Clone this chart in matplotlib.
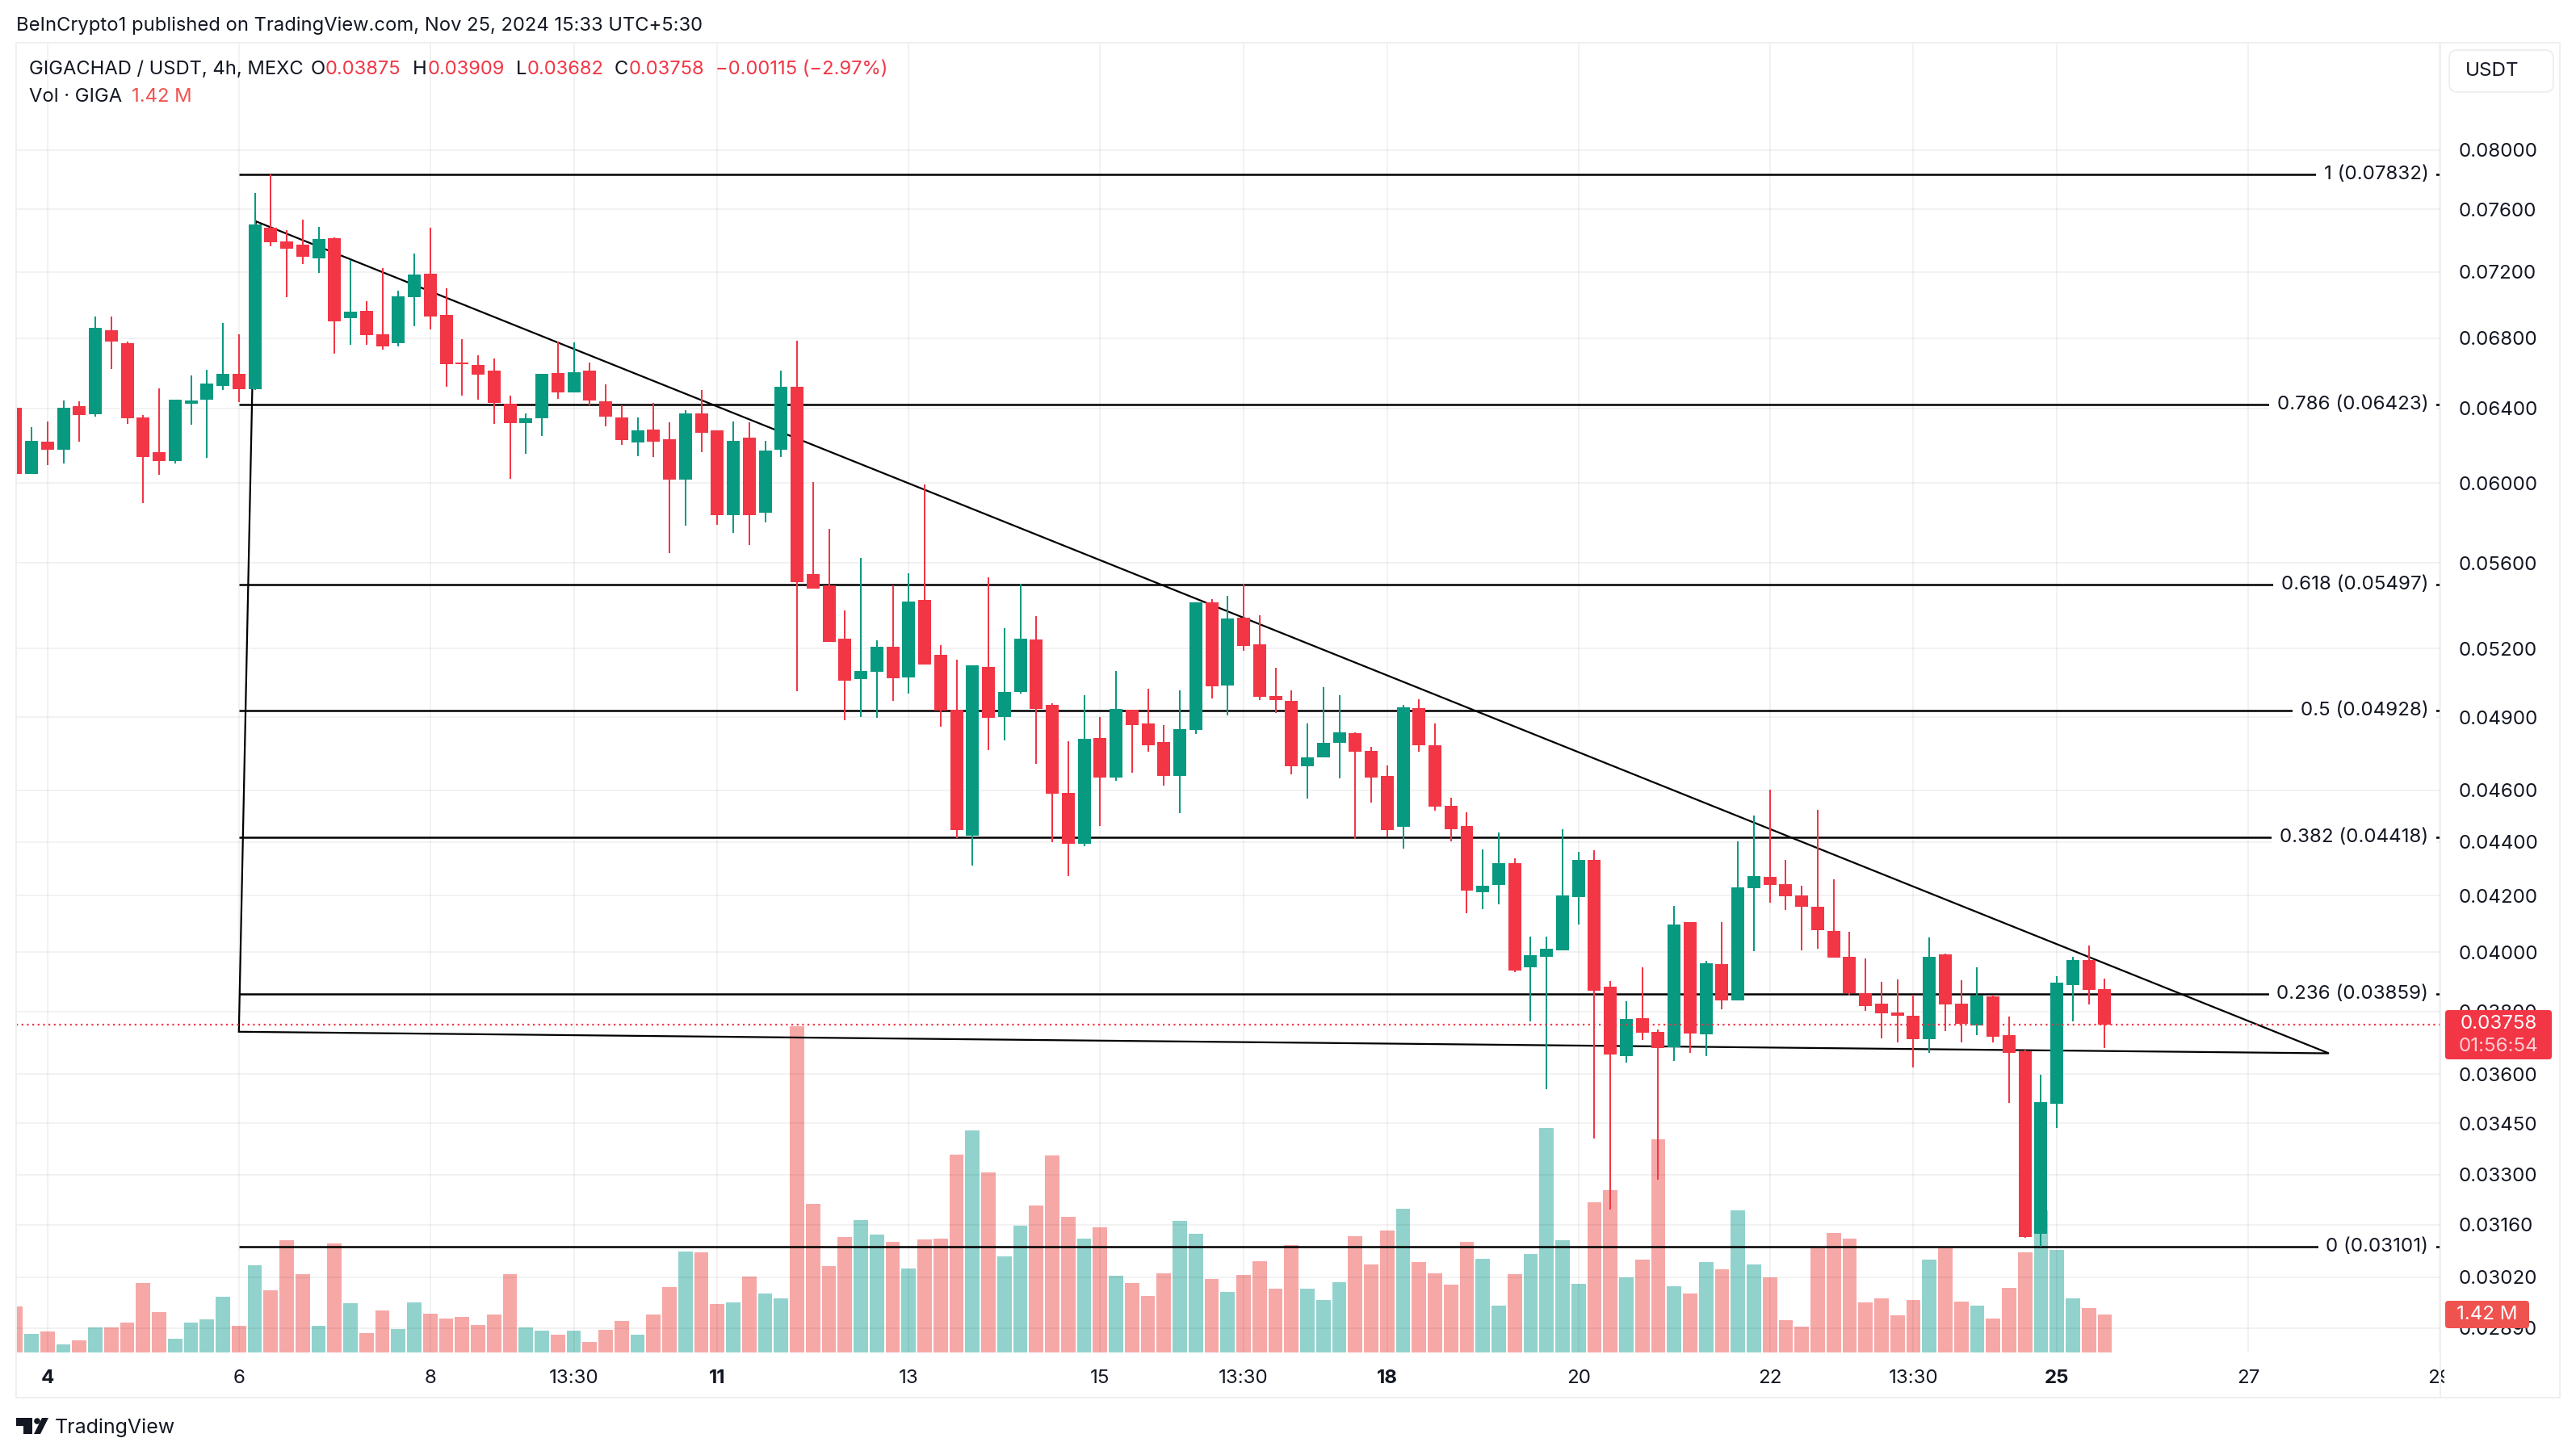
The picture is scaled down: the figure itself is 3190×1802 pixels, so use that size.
import matplotlib
matplotlib.use("Agg")
import matplotlib.pyplot as plt
import numpy as np
from matplotlib.patches import Circle, FancyBboxPatch, Polygon, Rectangle
from matplotlib.ticker import NullLocator
from matplotlib.transforms import Affine2D, Bbox, TransformedBbox

plt.rcParams["font.family"] = ["Inter", "DejaVu Sans"]

# 4h candles, prices in 1e-5 USDT
opens = [
    6403, 6047, 6218, 6175, 6412, 6368, 6847, 6771, 6350, 6162, 6116, 6425,
    6448, 6525, 6594, 6507, 7483, 7393, 7373, 7286, 7414, 6919, 6963, 6824,
    6771, 7046, 7190, 6939, 6658, 6644, 6612, 6425, 6319, 6346, 6598, 6489,
    6612, 6439, 6350, 6214, 6284, 6231, 6018, 6372, 6280, 5835, 6240, 5848,
    6175, 6521, 5546, 5492, 5244, 5064, 5096, 5207, 5071, 5423, 5172, 4932,
    4423, 5118, 4901, 5008, 5240, 4953, 4591, 4392, 4813, 4651, 4932, 4874,
    4796, 4658, 4847, 5411, 5036, 5341, 5218, 4991, 4970, 4696, 4733, 4793,
    4833, 4760, 4658, 4457, 4939, 4783, 4539, 4460, 4214, 4238, 4319, 3947,
    3983, 4005, 4194, 4331, 3882, 3657, 3777, 3733, 3685, 4104, 3725, 3958,
    3836, 4226, 4268, 4241, 4200, 4159, 4075, 3983, 3860, 3825, 3796, 3785,
    3709, 3991, 3825, 3754, 3849, 3722, 3672, 3135, 3508, 3887, 3972, 3875,
]
highs = [
    6403, 6297, 6328, 6443, 6439, 6929, 6929, 6781, 6363, 6512, 6448, 6585,
    6617, 6890, 6824, 7711, 7832, 7467, 7535, 7488, 7420, 7276, 7022, 7225,
    7085, 7317, 7483, 7100, 6795, 6700, 6681, 6471, 6372, 6594, 6781, 6776,
    6658, 6534, 6416, 6350, 6430, 6324, 6390, 6503, 6280, 6328, 6324, 6223,
    6612, 6786, 6005, 5766, 5374, 5624, 5237, 5492, 5550, 5992, 5215, 5150,
    5125, 5530, 5292, 5500, 5348, 4960, 4800, 4994, 4901, 5100, 4932, 5021,
    4867, 5015, 5411, 5427, 5442, 5500, 5352, 5114, 5015, 4874, 5029, 4994,
    4837, 4777, 4700, 4953, 4977, 4874, 4571, 4513, 4370, 4435, 4337, 4053,
    4053, 4448, 4361, 4367, 3901, 3833, 3949, 3740, 4162, 4104, 3969, 4104,
    4401, 4501, 4603, 4331, 4235, 4523, 4259, 4070, 3977, 3898, 3906, 3855,
    4050, 3994, 3903, 3949, 3855, 3782, 3680, 3599, 3919, 3983, 4022, 3909,
]
lows = [
    6047, 6047, 6094, 6103, 6218, 6355, 6621, 6315, 5897, 6043, 6103, 6311,
    6133, 6503, 6434, 6503, 7363, 7046, 7251, 7195, 6710, 6762, 6762, 6734,
    6753, 6871, 6852, 6521, 6471, 6448, 6315, 6022, 6154, 6249, 6452, 6489,
    6416, 6302, 6201, 6141, 6137, 5647, 5782, 6162, 5786, 5746, 5687, 5798,
    6137, 5011, 5477, 5230, 4888, 4901, 4898, 4970, 5001, 5129, 4860, 4413,
    4310, 4763, 4803, 5001, 4707, 4398, 4271, 4385, 4460, 4638, 4670, 4757,
    4619, 4510, 4830, 4980, 4908, 5190, 4974, 4918, 4664, 4567, 4733, 4648,
    4410, 4552, 4420, 4373, 4757, 4520, 4401, 4136, 4151, 4168, 3930, 3767,
    3552, 4005, 4098, 3404, 3201, 3635, 3707, 3285, 3640, 3667, 3657, 3806,
    3836, 4003, 4174, 4148, 4005, 4011, 3980, 3852, 3801, 3712, 3699, 3620,
    3667, 3735, 3701, 3722, 3701, 3510, 3124, 3101, 3437, 3767, 3822, 3682,
]
closes = [
    6047, 6223, 6175, 6403, 6363, 6862, 6781, 6346, 6137, 6116, 6448, 6443,
    6539, 6594, 6507, 7504, 7388, 7347, 7297, 7409, 6900, 6958, 6819, 6753,
    7051, 7185, 6929, 6648, 6648, 6589, 6430, 6319, 6346, 6594, 6489, 6603,
    6443, 6355, 6227, 6280, 6218, 6018, 6372, 6266, 5835, 6223, 5835, 6171,
    6521, 5507, 5477, 5230, 5057, 5100, 5207, 5068, 5415, 5129, 4929, 4445,
    5125, 4898, 5008, 5244, 4936, 4587, 4392, 4810, 4651, 4936, 4867, 4783,
    4658, 4850, 5411, 5032, 5337, 5211, 4987, 4974, 4696, 4733, 4793, 4837,
    4757, 4651, 4445, 4943, 4783, 4535, 4448, 4217, 4235, 4319, 3938, 3989,
    4011, 4200, 4331, 3868, 3662, 3775, 3731, 3683, 4098, 3727, 3961, 3836,
    4229, 4271, 4238, 4197, 4159, 4078, 3980, 3860, 3817, 3793, 3785, 3709,
    3983, 3822, 3759, 3852, 3717, 3667, 3128, 3513, 3895, 3972, 3871, 3758,
]
# volume in millions
volumes = [
    1.72, 0.69, 0.79, 0.30, 0.45, 0.94, 0.94, 1.12, 2.59, 1.51, 0.51, 1.12,
    1.23, 2.08, 0.99, 3.26, 2.32, 4.20, 2.92, 0.99, 4.07, 1.84, 0.72, 1.56,
    0.87, 1.87, 1.45, 1.27, 1.33, 1.02, 1.41, 2.92, 0.94, 0.81, 0.66, 0.81,
    0.39, 0.84, 1.18, 0.66, 1.41, 2.45, 3.78, 3.74, 1.81, 1.87, 2.84, 2.20,
    2.02, 12.20, 5.55, 3.23, 4.32, 4.96, 4.40, 4.14, 3.14, 4.22, 4.25, 7.40,
    8.31, 6.73, 3.59, 4.74, 5.50, 7.37, 5.07, 4.25, 4.68, 2.87, 2.59, 2.12,
    2.96, 4.92, 4.43, 2.74, 2.27, 2.89, 3.41, 2.38, 4.02, 2.38, 1.96, 2.63,
    4.35, 3.29, 4.56, 5.37, 3.38, 2.96, 2.53, 4.14, 3.50, 1.75, 2.92, 3.68,
    8.39, 4.20, 2.56, 5.61, 6.07, 2.80, 3.48, 7.98, 2.47, 2.22, 3.37, 3.11,
    5.32, 3.28, 2.80, 1.20, 0.96, 3.89, 4.47, 4.26, 1.88, 2.02, 1.39, 1.96,
    3.48, 3.89, 1.89, 1.75, 1.27, 2.42, 3.74, 5.33, 3.84, 2.02, 1.65, 1.42,
]

price_ticks = [0.08, 0.076, 0.072, 0.068, 0.064, 0.06, 0.056, 0.052, 0.049, 0.046,
               0.044, 0.042, 0.04, 0.038, 0.036, 0.0345, 0.033, 0.0316, 0.0302, 0.0289]
time_ticks = [2, 14, 26, 35, 44, 56, 68, 77, 86, 98, 110, 119, 128, 140, 152]
time_labels = ["4", "6", "8", "13:30", "11", "13", "15", "13:30", "18", "20", "22",
               "13:30", "25", "27", "29"]
bold_labels = ["4", "11", "18", "25"]

fib_ratios = ["1", "0.786", "0.618", "0.5", "0.382", "0.236", "0"]
fib_prices = [0.07832, 0.06423, 0.05497, 0.04928, 0.04418, 0.03859, 0.03101]
fib_start = 14

# triangle drawing: candle index and price of its three corners
tri_x = [15.06, 145.05, 14.0, 15.06]
tri_y = [0.07523, 0.03665, 0.03734, 0.07523]

last_price = 0.03758

GREEN = "#089981"
RED = "#F23645"
VOL_GREEN = "#26A69A"
VOL_RED = "#EF5350"
INK = "#131722"
LINE = "#EFEFEF"
AXIS_SIZE = 8.7
TOP_SIZE = 8.55

W, H = 3190, 1802
fig = plt.figure(figsize=(W / 200, H / 200), dpi=200, facecolor="white")
# everything outside the plot is placed in reference pixels, origin top left
px = Affine2D().scale(1 / W, -1 / H).translate(0, 1) + fig.transFigure

LEFT, RIGHT, TOP, BOTTOM = 20, 3022, 53, 1675
ax = fig.add_axes([LEFT / W, 1 - BOTTOM / H, (RIGHT - LEFT) / W, (BOTTOM - TOP) / H])
ax_vol = ax.twinx()
ax.set_zorder(1)
ax_vol.set_zorder(0)
ax.patch.set_visible(False)

o = np.array(opens) / 1e5
h = np.array(highs) / 1e5
l = np.array(lows) / 1e5
c = np.array(closes) / 1e5
x = np.arange(len(o))
up = c >= o

ax_vol.bar(x, volumes, width=0.9, alpha=0.5, linewidth=0,
           color=[VOL_GREEN if u else VOL_RED for u in up])
ax_vol.set_ylim(0, 49)
ax_vol.set_axis_off()

ax.set_yscale("log")
for price, ratio in zip(fib_prices, fib_ratios):
    ax.hlines(price, fib_start, 152.1, color="black", lw=0.9, zorder=2)
    ax.text(151.3, price, f"{ratio} ({price:.5f})", ha="right", va="center", fontsize=AXIS_SIZE,
            color=INK, zorder=2.5, bbox=dict(fc="white", ec="none", pad=3.5))
ax.plot(tri_x, tri_y, color="black", lw=0.8, zorder=2, solid_joinstyle="miter")

ax.vlines(x, l, h, colors=[GREEN if u else RED for u in up], lw=0.72, zorder=3)
ax.bar(x, np.abs(c - o), bottom=np.minimum(o, c), width=0.81, linewidth=0,
       color=[GREEN if u else RED for u in up], zorder=3)
ax.axhline(last_price, color=RED, lw=0.8, ls=(0, (1, 2)), zorder=4)

ax.set_xlim(0.035, 152.04)
ax.set_ylim(0.02830, 0.08778)
ax.set_axisbelow(True)
ax.grid(True, color="black", alpha=0.05, lw=0.72)

ax.yaxis.tick_right()
ax.set_yticks(price_ticks)
ax.set_yticklabels([f"{p:.5f}" for p in price_ticks])
ax.yaxis.set_minor_locator(NullLocator())
ax.tick_params(axis="y", which="both", length=0, pad=8.0, labelsize=AXIS_SIZE, labelcolor=INK)
ax.set_xticks(time_ticks)
ax.set_xticklabels(time_labels)
ax.tick_params(axis="x", length=0, pad=7.5, labelsize=AXIS_SIZE, labelcolor=INK)
clip = TransformedBbox(Bbox([[0, 0], [3027 / W, 1]]), fig.transFigure)
for lab in ax.get_xticklabels():
    if lab.get_text() in bold_labels:
        lab.set_fontweight("bold")
    lab.set_clip_on(True)
    lab.set_clip_box(clip)
for sp in ax.spines.values():
    sp.set_visible(False)


def label(xp, yp, s, color=INK, size=AXIS_SIZE, **kw):
    kw.setdefault("va", "center")
    fig.text(xp, yp, s, transform=px, color=color, fontsize=size, zorder=12, **kw)


def deco(patch):
    patch.set_transform(px)
    patch.set_zorder(10)
    fig.add_artist(patch)


# chart frame and price scale separator
deco(Rectangle((20, 53), 3150, 1678, fc="none", ec=LINE, lw=0.72))
deco(Rectangle((3022, 53), 0.01, 1678, fc="none", ec=LINE, lw=0.72))

label(20, 32, "BeInCrypto1 published on TradingView.com, Nov 25, 2024 15:33 UTC+5:30", size=8.55)

# legend rows
label(36, 86, "GIGACHAD / USDT, 4h, MEXC", size=TOP_SIZE)
for xl, letter, xv, val in [(385, "O", 403, "0.03875"), (511, "H", 530, "0.03909"),
                            (639, "L", 653, "0.03682"), (761, "C", 779, "0.03758")]:
    label(xl, 86, letter, size=TOP_SIZE)
    label(xv, 86, val, color=RED, size=TOP_SIZE)
label(886, 86, "\u22120.00115 (\u22122.97%)", color=RED, size=TOP_SIZE)
label(36, 120, "Vol \u00b7 GIGA", size=TOP_SIZE)
label(163, 120, "1.42 M", color=VOL_RED, size=TOP_SIZE)

# currency button
deco(FancyBboxPatch((3033, 62), 129, 52, boxstyle="round,pad=0,rounding_size=10",
                    fc="white", ec=LINE, lw=0.72))
label(3053, 88, "USDT")

# last price and volume tags
deco(FancyBboxPatch((3028, 1251), 132, 61, boxstyle="round,pad=0,rounding_size=4",
                    fc=RED, ec="none"))
label(3094, 1268, "0.03758", color="white", ha="center")
label(3094, 1296, "01:56:54", color="#FFD0D4", ha="center")
deco(FancyBboxPatch((3028, 1611), 104, 34, boxstyle="round,pad=0,rounding_size=4",
                    fc=VOL_RED, ec="none"))
label(3080, 1628, "1.42 M", color="white", ha="center")

# TradingView mark
deco(Polygon([(20, 1756), (40, 1756), (40, 1776), (29, 1776), (29, 1766), (20, 1766)],
             fc=INK, ec="none"))
deco(Circle((46, 1760), 3.8, fc=INK, ec="none"))
deco(Polygon([(52, 1756), (60, 1756), (50, 1776), (42, 1776)], fc=INK, ec="none"))
label(68, 1768, "TradingView", size=9.0)

fig.savefig("out.png", dpi=200)
